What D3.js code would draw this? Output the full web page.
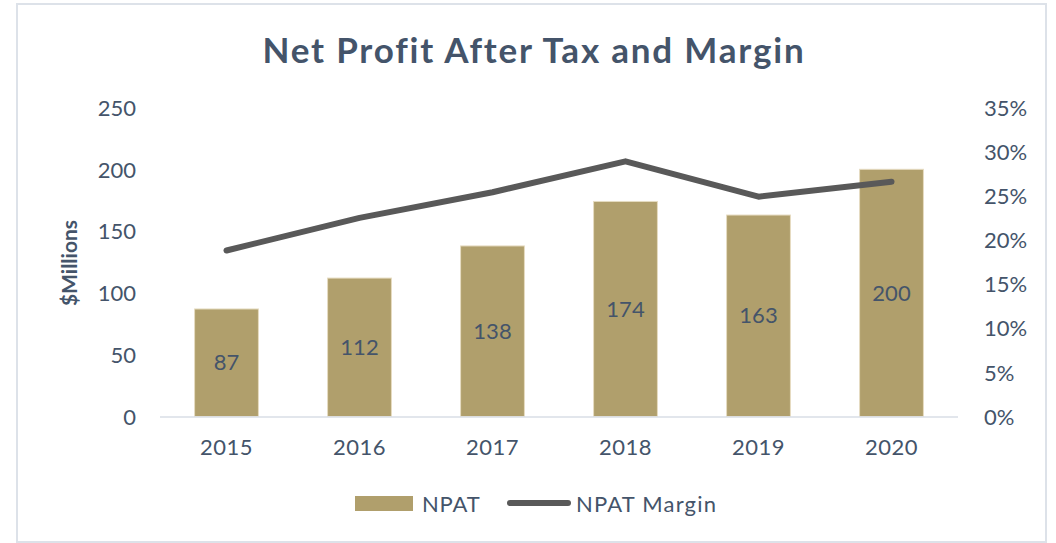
<!DOCTYPE html>
<html>
<head>
<meta charset="utf-8">
<script src="https://cdn.jsdelivr.net/npm/d3@7"></script>
<style>
  body { margin: 0; background: #fff; }
  text { font-family: Lato, "Open Sans", sans-serif; fill: #44546a; }
</style>
</head>
<body>
<div id="chart"></div>
<script>
const years = ['2015', '2016', '2017', '2018', '2019', '2020'];
const npat = [87, 112, 138, 174, 163, 200];
const margin = [0.188, 0.225, 0.254, 0.289, 0.249, 0.266];
const leftTicks = [0, 50, 100, 150, 200, 250];
const rightTicks = [0, 0.05, 0.10, 0.15, 0.20, 0.25, 0.30, 0.35];

const width = 1056;
const height = 543;
const plot = { left: 160, right: 958, top: 107.5, bottom: 416.5 };
const textColor = '#44546a';
const barColor = '#b09f6c';
const lineColor = '#595959';
const fontSize = '22px';

const svg = d3.select('#chart')
  .append('svg')
  .attr('width', width)
  .attr('height', height);

// chart frame
svg.append('rect')
  .attr('x', 17)
  .attr('y', 4)
  .attr('width', 1029)
  .attr('height', 538)
  .attr('fill', '#fff')
  .attr('stroke', '#dde2e9')
  .attr('stroke-width', 2);

svg.append('text')
  .attr('x', 534)
  .attr('y', 63)
  .attr('text-anchor', 'middle')
  .style('font-size', '35px')
  .style('font-weight', 'bold')
  .style('letter-spacing', '1.8px')
  .text('Net Profit After Tax and Margin');

const x = d3.scaleBand()
  .domain(years)
  .range([plot.left, plot.right])
  .paddingInner(0.52)
  .paddingOuter(0.26);

const yLeft = d3.scaleLinear()
  .domain([0, 250])
  .range([plot.bottom, plot.top]);

const yRight = d3.scaleLinear()
  .domain([0, 0.35])
  .range([plot.bottom, plot.top]);

// left axis
const leftAxis = svg.append('g')
  .attr('transform', `translate(${plot.left - 24},0)`)
  .call(d3.axisLeft(yLeft).tickValues(leftTicks).tickSize(0).tickPadding(0));
leftAxis.select('.domain').remove();
leftAxis.selectAll('text')
  .style('font-size', fontSize)
  .attr('dy', '0.35em')
  .attr('fill', textColor);

// right axis
const rightAxis = svg.append('g')
  .attr('transform', `translate(${plot.right + 26},0)`)
  .call(d3.axisRight(yRight).tickValues(rightTicks).tickFormat(d3.format('.0%')).tickSize(0).tickPadding(0));
rightAxis.select('.domain').remove();
rightAxis.selectAll('text')
  .style('font-size', fontSize)
  .attr('dy', '0.35em')
  .attr('fill', textColor);

// bars
const rows = years.map((year, i) => ({ year, npat: npat[i], margin: margin[i] }));

svg.append('g')
  .selectAll('rect')
  .data(rows)
  .join('rect')
  .attr('x', d => x(d.year))
  .attr('y', d => yLeft(d.npat))
  .attr('width', x.bandwidth())
  .attr('height', d => yLeft(0) - yLeft(d.npat))
  .attr('fill', barColor)
  .attr('stroke', '#e6dcc2')
  .attr('stroke-width', 1);

// baseline
svg.append('line')
  .attr('x1', plot.left)
  .attr('x2', plot.right)
  .attr('y1', plot.bottom + 0.5)
  .attr('y2', plot.bottom + 0.5)
  .attr('stroke', '#d9dee6')
  .attr('stroke-width', 1.5);

// bottom axis
const bottomAxis = svg.append('g')
  .attr('transform', `translate(0,${plot.bottom})`)
  .call(d3.axisBottom(x).tickSize(0).tickPadding(23));
bottomAxis.select('.domain').remove();
bottomAxis.selectAll('text')
  .style('font-size', fontSize)
  .style('letter-spacing', '0.5px')
  .attr('fill', textColor);

// data labels
svg.append('g')
  .selectAll('text')
  .data(rows)
  .join('text')
  .attr('x', d => x(d.year) + x.bandwidth() / 2)
  .attr('y', d => (yLeft(d.npat) + yLeft(0)) / 2)
  .attr('dy', '0.35em')
  .attr('text-anchor', 'middle')
  .style('font-size', fontSize)
  .text(d => d.npat);

// margin line
const line = d3.line()
  .x(d => x(d.year) + x.bandwidth() / 2)
  .y(d => yRight(d.margin));

svg.append('path')
  .datum(rows)
  .attr('d', line)
  .attr('fill', 'none')
  .attr('stroke', lineColor)
  .attr('stroke-width', 6)
  .attr('stroke-linecap', 'round')
  .attr('stroke-linejoin', 'round');

// y title
svg.append('text')
  .attr('transform', 'translate(70,263) rotate(-90)')
  .attr('text-anchor', 'middle')
  .attr('dy', '0.35em')
  .style('font-size', '21px')
  .style('font-weight', 'bold')
  .text('$Millions');

// legend
const legend = svg.append('g');
legend.append('rect')
  .attr('x', 355)
  .attr('y', 496)
  .attr('width', 58)
  .attr('height', 15)
  .attr('fill', barColor);
legend.append('text')
  .attr('x', 422)
  .attr('y', 504)
  .attr('dy', '0.35em')
  .style('font-size', fontSize)
  .style('letter-spacing', '0.8px')
  .text('NPAT');
legend.append('line')
  .attr('x1', 510)
  .attr('x2', 568)
  .attr('y1', 503)
  .attr('y2', 503)
  .attr('stroke', lineColor)
  .attr('stroke-width', 6)
  .attr('stroke-linecap', 'round');
legend.append('text')
  .attr('x', 576)
  .attr('y', 504)
  .attr('dy', '0.35em')
  .style('font-size', fontSize)
  .style('letter-spacing', '1.2px')
  .text('NPAT Margin');
</script>
</body>
</html>
